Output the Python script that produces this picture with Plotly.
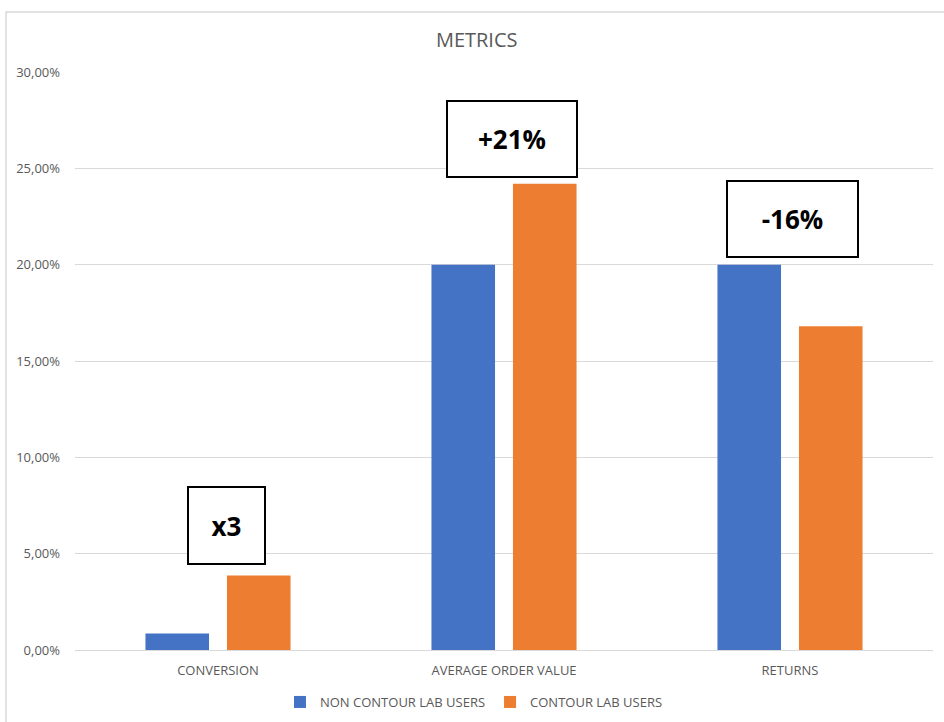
import plotly.graph_objects as go

# Metric categories and series values (fractions)
categories = ["CONVERSION", "AVERAGE ORDER VALUE", "RETURNS"]
non_users = [0.0085, 0.20, 0.20]
users = [0.0387, 0.242, 0.168]
series_names = ["NON CONTOUR LAB USERS", "CONTOUR LAB USERS"]

# Callout boxes: text, category, height on value axis
callout_text = ["x3", "+21%", "-16%"]
callout_cat = ["CONVERSION", "AVERAGE ORDER VALUE", "RETURNS"]
callout_y = [0.0646, 0.265, 0.2238]
callout_xshift = [8, 8, 2]
callout_size = [(79, 79), (132, 78), (133, 78)]

BLUE = "#4472C4"
ORANGE = "#ED7D31"
GRID = "#d9d9d9"
TEXT = "#595959"
FONT = "Open Sans"

fig = go.Figure()
fig.add_trace(go.Bar(x=categories, y=non_users, name=series_names[0],
                     marker=dict(color=BLUE, line=dict(width=0))))
fig.add_trace(go.Bar(x=categories, y=users, name=series_names[1],
                     marker=dict(color=ORANGE, line=dict(width=0))))

annotations = []
for t, c, y, xs, (w, h) in zip(callout_text, callout_cat, callout_y,
                               callout_xshift, callout_size):
    annotations.append(dict(
        x=c, y=y, xref="x", yref="y", text=f"<b>{t}</b>", showarrow=False,
        xshift=xs, width=w - 4, height=h - 4, borderpad=0,
        bordercolor="black", borderwidth=2, bgcolor="white",
        font=dict(family=FONT, size=26, color="black"),
        align="center", valign="middle",
    ))

fig.update_layout(
    width=944, height=722,
    margin=dict(l=75, r=11, t=72, b=72, autoexpand=False),
    paper_bgcolor="white", plot_bgcolor="white",
    separators=", ",
    barmode="group", bargap=0.43, bargroupgap=0.22,
    title=dict(text="METRICS", x=0.505, xanchor="center", y=1 - 40 / 722,
               yanchor="middle", font=dict(family=FONT, size=20, color=TEXT)),
    font=dict(family=FONT, size=13, color=TEXT),
    xaxis=dict(showline=False, showgrid=False, ticks="", ticklabelstandoff=11,
               tickfont=dict(family=FONT, size=13, color=TEXT)),
    yaxis=dict(range=[0, 0.30], dtick=0.05, tickformat=".2%",
               showgrid=True, gridcolor=GRID, gridwidth=1,
               zeroline=True, zerolinecolor=GRID, zerolinewidth=1,
               showline=False, ticks="", ticklabelstandoff=14,
               tickfont=dict(family=FONT, size=13, color=TEXT)),
    legend=dict(orientation="h", x=0.465, xanchor="center",
                y=(650 - 702) / 578, yanchor="middle",
                font=dict(family=FONT, size=13, color=TEXT),
                itemwidth=30, traceorder="normal"),
    annotations=annotations,
    shapes=[dict(type="rect", xref="paper", yref="paper",
                 x0=(6 - 75) / 858, x1=1.2, y0=-0.3, y1=(650 - 12) / 578,
                 line=dict(color=GRID, width=1.5), layer="below")],
)

fig.write_html("out.html")
